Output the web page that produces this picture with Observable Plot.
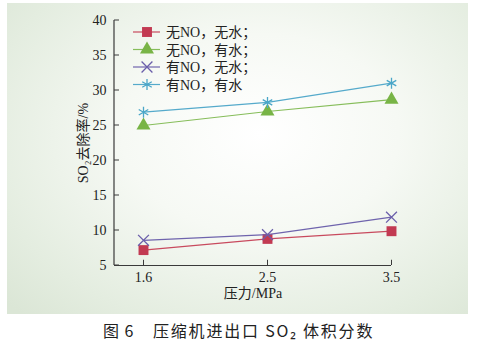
<!DOCTYPE html>
<html><head><meta charset="utf-8">
<script src="https://cdn.jsdelivr.net/npm/d3@7"></script>
<script src="https://cdn.jsdelivr.net/npm/@observablehq/plot@0.6"></script>
<style>
html,body{margin:0;padding:0;background:#fff;}
#wrap{position:relative;width:480px;height:343px;overflow:hidden;}
#panel{position:absolute;left:7px;top:3px;width:461px;height:311px;
 background:radial-gradient(ellipse 75% 80% at 55% 42%, #ffffff 0%, #f6f9f4 40%, #e4ede0 80%, #dbe6d6 100%);}
#chart{position:absolute;left:0;top:0;}
#legend{position:absolute;left:0;top:0;}
.cap{position:absolute;top:318px;font-family:"Noto Sans CJK SC","Noto Sans",sans-serif;font-size:16px;color:#222;white-space:pre;font-weight:400;}
#cap1{left:103px;letter-spacing:1px;}
#cap2{left:153px;letter-spacing:1.8px;}
</style></head>
<body><div id="wrap"><div id="panel"></div><div id="chart"></div><svg id="legend" width="480" height="120"></svg><div id="cap1" class="cap"></div><div id="cap2" class="cap"></div></div>
<script>
const pressures = ["1.6", "2.5", "3.5"];
const seriesNames = ["无NO，无水；", "无NO，有水；", "有NO，无水；", "有NO，有水"];
const noNO_noWater = [7.2, 8.8, 9.9];
const noNO_water = [25.0, 27.0, 28.7];
const NO_noWater = [8.6, 9.4, 11.9];
const NO_water = [26.9, 28.3, 31.05];
const yTicks = [5, 10, 15, 20, 25, 30, 35, 40];
const seriesValues = [noNO_noWater, noNO_water, NO_noWater, NO_water];
const colors = ["#c23a52", "#78b446", "#6a5eaa", "#4aa6c8"];
const lineColors = ["#c84a5e", "#86bd5a", "#6f64ad", "#55aacb"];
const symbols = ["square", "triangle", "times", "asterisk"];
const sizes = [5.6, 5.2, 5, 5.2];
const filled = [true, true, false, false];

const rows = [];
seriesValues.forEach((vals, s) => vals.forEach((v, i) => rows.push({series: seriesNames[s], s, p: pressures[i], v})));

const serif = "'Liberation Serif','Times New Roman','Noto Sans CJK SC',serif";
const axisColor = "#3a3a3a";
const marks = [
  Plot.ruleY([5], {stroke: axisColor, strokeWidth: 1.2}),
  Plot.axisY({ticks: yTicks, tickSize: 0, tickPadding: 8, fontSize: 14, fill: "#222",
    label: "SO₂去除率/%", labelAnchor: "center", labelArrow: "none", labelOffset: 36}),
  Plot.axisX({tickSize: 0, tickPadding: 7, fontSize: 14, fill: "#222",
    label: "压力/MPa", labelAnchor: "center", labelArrow: "none", labelOffset: 32}),
  Plot.ruleX(pressures, {x: d => d, y1: 5, y2: 5.75, stroke: axisColor}),
];
seriesValues.forEach((vals, s) => {
  const data = rows.filter(d => d.s === s);
  marks.push(Plot.line(data, {x: "p", y: "v", stroke: lineColors[s], strokeWidth: 1.2}));
  marks.push(Plot.dot(data, {x: "p", y: "v", symbol: () => symbols[s], r: sizes[s],
    fill: filled[s] ? colors[s] : "none", stroke: filled[s] ? "none" : colors[s], strokeWidth: 1.3}));
});

const chart = Plot.plot({
  width: 480, height: 314,
  marginLeft: 114, marginRight: 89, marginTop: 20, marginBottom: 49,
  style: {background: "transparent", fontFamily: serif, fontSize: "14px", color: "#222"},
  x: {type: "point", domain: pressures, padding: 0.1125, align: 1, label: "压力/MPa"},
  y: {domain: [5, 40], label: "SO₂去除率/%"},
  symbol: {type: "identity"},
  marks
});
document.getElementById("chart").appendChild(chart);
// left axis line and inward y ticks, placed via the chart's own y scale
const ys = chart.scale("y");
const xLeft = 114;
const svg = d3.select(chart);
svg.append("line").attr("x1", xLeft).attr("x2", xLeft).attr("y1", ys.apply(40)).attr("y2", ys.apply(5))
  .attr("stroke", axisColor).attr("stroke-width", 1.2);
yTicks.forEach(t => svg.append("line").attr("x1", xLeft).attr("x2", xLeft + 5)
  .attr("y1", ys.apply(t)).attr("y2", ys.apply(t)).attr("stroke", axisColor).attr("stroke-width", 1));

// legend
const lg = d3.select("#legend");
const rowY = [32, 49.5, 67, 84.5];
const symMap = {square: d3.symbolSquare, triangle: d3.symbolTriangle, times: d3.symbolTimes, asterisk: d3.symbolAsterisk};
seriesNames.forEach((name, s) => {
  const g = lg.append("g").attr("transform", `translate(0,${rowY[s]})`);
  g.append("line").attr("x1", 133).attr("x2", 160).attr("y1", 0).attr("y2", 0).attr("stroke", lineColors[s]).attr("stroke-width", 1.2);
  g.append("path").attr("transform", "translate(147,0)")
    .attr("d", d3.symbol(symMap[symbols[s]], Math.PI * sizes[s] * sizes[s])())
    .attr("fill", filled[s] ? colors[s] : "none").attr("stroke", filled[s] ? "none" : colors[s]).attr("stroke-width", 1.3);
  g.append("text").attr("x", 166).attr("y", 5).attr("font-family", serif).attr("font-size", 14).attr("fill", "#222").text(name);
});

document.getElementById("cap1").textContent = "图 6";
document.getElementById("cap2").textContent = "压缩机进出口 SO₂ 体积分数";
</script></body></html>
